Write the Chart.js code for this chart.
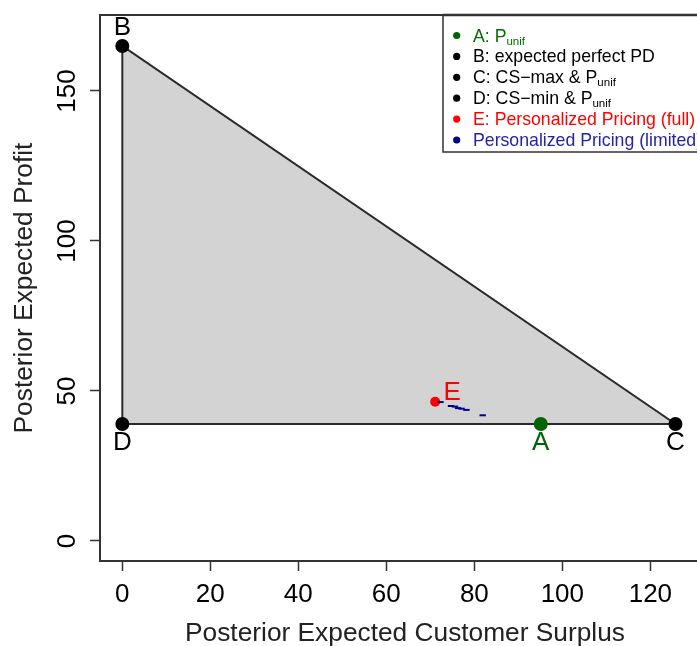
<!DOCTYPE html>
<html><head><meta charset="utf-8">
<script src="https://cdn.jsdelivr.net/npm/chart.js@4"></script>
<style>html,body{margin:0;padding:0;overflow:hidden;background:#fff}#wrap{width:720px;height:646px}</style>
</head><body><div id="wrap"><canvas id="c" width="720" height="646"></canvas></div>
<script>
// ---- data ----
const pointNames = ['A', 'B', 'C', 'D', 'E'];
const pointCS = [95.1, 0, 125.7, 0, 71.1];
const pointProfit = [39, 165, 39, 39, 46.4];
const limitedCS = [72.3, 74.7, 75.6, 76.3, 77.1, 78.2, 81.9];
const limitedProfit = [46.3, 45.0, 44.8, 44.3, 44.1, 43.7, 41.9];
const xTicks = [0, 20, 40, 60, 80, 100, 120];
const yTicks = [0, 50, 100, 150];
const legendMain = ['A: P', 'B: expected perfect PD', 'C: CS\u2212max & P', 'D: CS\u2212min & P', 'E: Personalized Pricing (full)', 'Personalized Pricing (limited)'];
const legendSub = ['unif', '', 'unif', 'unif', '', ''];
const xTitle = 'Posterior Expected Customer Surplus';
const yTitle = 'Posterior Expected Profit';

// ---- styles ----
const FONT = '"Liberation Sans", Arial, sans-serif';
const GREEN = '#006400', RED = '#ff0000', NAVY = '#00008b';
const pointFill = [GREEN, '#000', '#000', '#000', RED];
const pointR = [7, 7, 7, 7, 5];
const legendDot = [GREEN, '#000', '#000', '#000', RED, NAVY];
const legendText = ['#007000', '#000', '#000', '#000', RED, '#2424a8'];

const pt = i => ({x: pointCS[i], y: pointProfit[i]});
const iA = 0, iB = 1, iC = 2, iD = 3, iE = 4;

const overlay = {
  id: 'overlay',
  afterDraw(chart) {
    const ctx = chart.ctx, xs = chart.scales.x, ys = chart.scales.y, a = chart.chartArea;
    ctx.save();
    // box top & right
    ctx.strokeStyle = '#333'; ctx.lineWidth = 2;
    ctx.beginPath(); ctx.moveTo(a.left - 1, a.top); ctx.lineTo(a.right, a.top); ctx.lineTo(a.right, a.bottom); ctx.stroke();
    // y tick labels (rotated, like R)
    ctx.font = '26px ' + FONT; ctx.fillStyle = '#000'; ctx.textAlign = 'center'; ctx.textBaseline = 'alphabetic';
    yTicks.forEach(v => {
      const py = ys.getPixelForValue(v);
      ctx.save(); ctx.translate(75, py); ctx.rotate(-Math.PI / 2); ctx.fillText(String(v), 0, 0); ctx.restore();
    });
    // axis titles
    ctx.fillStyle = '#222';
    ctx.font = '26.3px ' + FONT;
    ctx.fillText(xTitle, 405, 641);
    ctx.save(); ctx.translate(31.5, (a.top + a.bottom) / 2); ctx.rotate(-Math.PI / 2); ctx.fillText(yTitle, 0, 0); ctx.restore();
    ctx.font = '26px ' + FONT;
    // point letters
    const lab = (i, dx, dy, col) => {
      ctx.fillStyle = col;
      ctx.fillText(pointNames[i], xs.getPixelForValue(pointCS[i]) + dx, ys.getPixelForValue(pointProfit[i]) + dy);
    };
    lab(iB, 0, -11, '#000');
    lab(iD, 0, 26, '#000');
    lab(iA, 0, 26, GREEN);
    lab(iC, 0, 26, '#000');
    lab(iE, 17, -2, RED);
    // legend
    const lx = 443, ly = 15, lw = 300, lh = 137;
    ctx.fillStyle = '#fff'; ctx.fillRect(lx, ly, lw, lh);
    ctx.strokeStyle = '#333'; ctx.lineWidth = 1.5; ctx.strokeRect(lx, ly, lw, lh);
    ctx.strokeStyle = '#333'; ctx.lineWidth = 2.5;
    ctx.beginPath(); ctx.moveTo(lx, a.top); ctx.lineTo(a.right, a.top); ctx.stroke();
    ctx.textAlign = 'left';
    legendMain.forEach((t, i) => {
      const cy = 35.5 + i * 20.9;
      ctx.fillStyle = legendDot[i];
      ctx.beginPath(); ctx.arc(456.7, cy, 3.6, 0, Math.PI * 2); ctx.fill();
      ctx.fillStyle = legendText[i];
      ctx.font = '17.7px ' + FONT;
      ctx.fillText(t, 473, cy + 6);
      if (legendSub[i]) {
        const w = ctx.measureText(t).width;
        ctx.font = '11.5px ' + FONT;
        ctx.fillText(legendSub[i], 473 + w, cy + 9);
      }
    });
    ctx.restore();
  }
};

new Chart(document.getElementById('c'), {
  type: 'line',
  data: {
    datasets: [
      {label: 'Personalized Pricing (limited)', data: limitedCS.map((x, i) => ({x, y: limitedProfit[i]})),
        showLine: false, pointStyle: 'line', pointRadius: 3.2, pointBorderWidth: 2, pointBorderColor: NAVY, borderColor: NAVY, order: 1},
      {label: 'points', data: pointNames.map((n, i) => pt(i)), showLine: false,
        pointRadius: pointR, pointBackgroundColor: pointFill, pointBorderColor: pointFill, pointBorderWidth: 0, order: 2},
      {label: 'edges', data: [pt(iD), pt(iB), pt(iC), pt(iD)], showLine: true, borderColor: '#2a2a2a', borderWidth: 2,
        pointRadius: 0, fill: false, order: 3},
      {label: 'area', data: [pt(iB), pt(iC)], showLine: true, borderWidth: 0, borderColor: 'rgba(0,0,0,0)',
        pointRadius: 0, backgroundColor: '#d3d3d3', fill: {value: pointProfit[iD]}, order: 4}
    ]
  },
  options: {
    responsive: false, animation: false, devicePixelRatio: 1,
    layout: {padding: {left: 0, right: 12, top: 15, bottom: 0}},
    plugins: {legend: {display: false}, tooltip: {enabled: false}},
    scales: {
      x: {type: 'linear', min: -5.07, max: 133.1,
        afterBuildTicks: s => { s.ticks = xTicks.map(v => ({value: v})); },
        afterFit: s => { s.height = 85; },
        grid: {display: true, drawOnChartArea: false, drawTicks: true, tickLength: 10, color: '#333', tickWidth: 1.5},
        border: {display: true, color: '#333', width: 2},
        ticks: {font: {family: FONT, size: 26}, color: '#000', padding: 8, maxRotation: 0, autoSkip: false}},
      y: {type: 'linear', min: -6.67, max: 175.33,
        afterBuildTicks: s => { s.ticks = yTicks.map(v => ({value: v})); },
        afterFit: s => { s.width = 100; },
        grid: {display: true, drawOnChartArea: false, drawTicks: true, tickLength: 10, color: '#333', tickWidth: 1.5},
        border: {display: true, color: '#333', width: 2},
        ticks: {display: false}}
    }
  },
  plugins: [overlay]
});
</script></body></html>
